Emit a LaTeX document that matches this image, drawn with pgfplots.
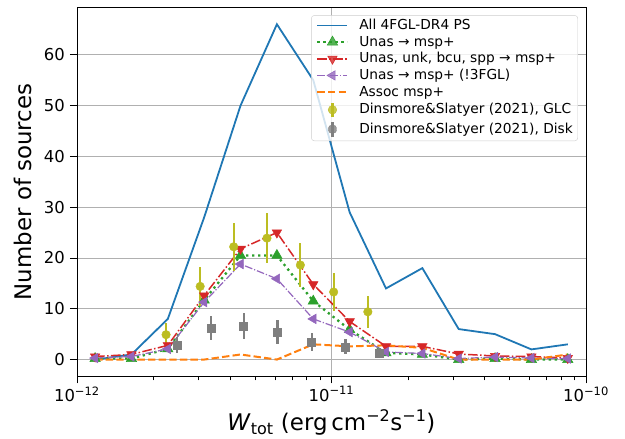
\documentclass[border=0pt]{standalone}
\usepackage{fontspec}
\setmainfont{DejaVu Sans}
\usepackage{pgfplots}
\usepackage{pgfplotstable}
\pgfplotsset{compat=1.18}
\definecolor{tabblue}{HTML}{1F77B4}
\definecolor{taborange}{HTML}{FF7F0E}
\definecolor{tabgreen}{HTML}{2CA02C}
\definecolor{tabred}{HTML}{D62728}
\definecolor{tabpurple}{HTML}{9467BD}
\definecolor{tabolive}{HTML}{BCBD22}
\definecolor{tabgray}{HTML}{7F7F7F}
\definecolor{gridgray}{HTML}{B0B0B0}
\definecolor{legedge}{HTML}{CCCCCC}

\pgfplotstableread{
x          all   unas   ext   new   assoc
1.1788e-12 0     0.2    0.6   0.3   0
1.6379e-12 1     0.2    1.0   0.6   0
2.2758e-12 8     2.1    2.8   2.1   0
3.1623e-12 28    11.7   12.6  11.3  0
4.3940e-12 50    20.5   21.8  18.8  1
6.1054e-12 66    20.5   25.0  15.9  0
8.4834e-12 55    11.5   14.8  8.0   3
1.1788e-11 29    5.9    7.5   5.4   2.6
1.6379e-11 14    1.3    2.6   1.5   2.8
2.2758e-11 18    1.0    2.6   1.2   2.3
3.1623e-11 6     0      1.1   0.2   0
4.3940e-11 5     0.2    0.7   0.5   0
6.1054e-11 2     0      0.6   0.3   0
8.4834e-11 3     0      0.3   0.2   1
}\bins

\pgfplotstableread{
x          y     e
2.24e-12   4.9   2.2
3.05e-12   14.4  3.8
4.13e-12   22.2  4.7
5.58e-12   23.9  4.9
7.55e-12   18.6  4.3
1.02e-11   13.3  3.65
1.39e-11   9.4   3.1
}\glc

\pgfplotstableread{
x          y     e
2.48e-12   2.8   1.6
3.37e-12   6.2   2.4
4.52e-12   6.55  2.6
6.14e-12   5.45  2.3
8.36e-12   3.5   1.8
1.136e-11  2.5   1.5
1.545e-11  1.3   1.0
}\disk

\begin{document}
\begin{tikzpicture}
\begin{axis}[
  scale only axis, width=509.3bp, height=369bp,
  xmode=log, xmin=1e-12, xmax=1e-10, ymin=-3.3, ymax=69.3,
  xtick={1e-12,1e-11,1e-10},
  xticklabels={10\textsuperscript{−12},10\textsuperscript{−11},10\textsuperscript{−10}},
  minor xtick={2e-12,3e-12,4e-12,5e-12,6e-12,7e-12,8e-12,9e-12,2e-11,3e-11,4e-11,5e-11,6e-11,7e-11,8e-11,9e-11},
  ytick={0,10,20,30,40,50,60},
  tick pos=left,
  tick align=outside,
  major tick length=7bp, minor tick length=4bp,
  every tick/.style={black, line width=0.8bp},
  every minor tick/.style={black, line width=0.6bp},
  grid=major, major grid style={color=gridgray, line width=0.8bp},
  axis line style={line width=0.8bp},
  /pgf/number format/assume math mode=true,
  tick label style={font=\fontsize{16.5}{19}\selectfont, inner sep=0pt},
  xticklabel style={anchor=north, yshift=-3bp},
  yticklabel style={anchor=east, xshift=-5bp},
  every axis x label/.style={at={(axis description cs:0.5,-0.147)}, anchor=base, inner sep=0pt, font=\fontsize{23}{27}\selectfont},
  every axis y label/.style={at={(axis description cs:-0.0889,0.5)}, rotate=90, anchor=base, inner sep=0pt, font=\fontsize{23}{27}\selectfont},
  xlabel={\textit{W}\textsubscript{tot} (erg\,cm\textsuperscript{−2}s\textsuperscript{−1})},
  ylabel={Number of sources},
  legend cell align=left,
  legend style={at={(axis description cs:0.9843,0.979)}, anchor=north east,
    draw=legedge, fill=white, fill opacity=0.8, draw opacity=1, text opacity=1,
    rounded corners=3bp, font=\fontsize{13.8}{16}\selectfont,
    inner xsep=5bp, inner ysep=3bp, row sep=2.67bp, column sep=10.7bp,
    nodes={inner sep=0pt, text height=11bp, text depth=3bp}},
  legend image code/.code={\draw[mark repeat=2,mark phase=2] plot coordinates {(0bp,0bp)(15bp,0bp)(30bp,0bp)};},
]
\addplot[tabblue, line width=1.8bp] table[x=x,y=all] {\bins};
\addlegendentry{All 4FGL-DR4 PS}
\addplot[tabgreen, line width=2.3bp, dash pattern=on 2.3bp off 3.7bp, mark=triangle*, mark size=6bp, mark options={solid, line width=0.5bp}] table[x=x,y=unas] {\bins};
\addlegendentry{Unas → msp+}
\addplot[tabred, line width=1.5bp, dash pattern=on 9.6bp off 2.4bp on 1.5bp off 2.4bp, mark=triangle*, mark size=5.5bp, mark options={solid, rotate=180, line width=0.5bp}] table[x=x,y=ext] {\bins};
\addlegendentry{Unas, unk, bcu, spp → msp+}
\addplot[tabpurple, line width=1.2bp, dash pattern=on 7.7bp off 1.9bp on 1.2bp off 1.9bp, mark=triangle*, mark size=5.5bp, mark options={solid, rotate=90, line width=0.5bp}] table[x=x,y=new] {\bins};
\addlegendentry{Unas → msp+ (!3FGL)}
\addplot[taborange, line width=2bp, dash pattern=on 7.4bp off 3.2bp] table[x=x,y=assoc] {\bins};
\addlegendentry{Assoc msp+}
\addplot[tabolive, only marks, mark=*, mark size=4.3bp,
  legend image code/.code={\draw[tabolive, line width=2.2bp] (15bp,-7bp) -- (15bp,7bp); \fill[tabolive] (15bp,0bp) circle[radius=4.3bp];},
  error bars/.cd, y dir=both, y explicit, error mark=none,
  error bar style={line width=2.2bp, tabolive}]
  table[x=x,y=y,y error=e] {\glc};
\addlegendentry{Dinsmore\&Slatyer (2021), GLC}
\addplot[tabgray, only marks, mark=square*, mark size=4bp,
  legend image code/.code={\draw[tabgray, line width=2.2bp] (15bp,-7.5bp) -- (15bp,7.5bp); \fill[tabgray] (11bp,-4bp) rectangle (19bp,4bp);},
  error bars/.cd, y dir=both, y explicit, error mark=none,
  error bar style={line width=2.2bp, tabgray}]
  table[x=x,y=y,y error=e] {\disk};
\addlegendentry{Dinsmore\&Slatyer (2021), Disk}
\end{axis}
\pgfresetboundingbox
\path[use as bounding box] ([shift={(-77bp,-62.5bp)}]current axis.south west) rectangle ([shift={(39bp,7.5bp)}]current axis.north east);
\end{tikzpicture}
\end{document}
